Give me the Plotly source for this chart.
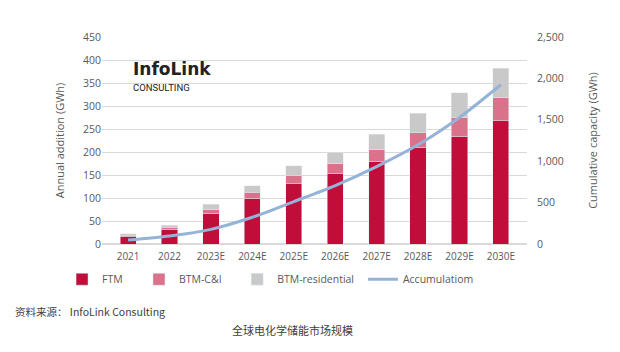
import plotly.graph_objects as go

years = ["2021", "2022", "2023E", "2024E", "2025E", "2026E", "2027E", "2028E", "2029E", "2030E"]
ftm = [17, 32, 67, 99, 131, 153, 179, 210, 234, 268]
btm_ci = [2.5, 4, 7, 13, 18, 21, 26, 32, 40, 50]
btm_res = [3, 5, 12, 15, 21, 26, 34, 42, 55, 64]
accum = [48, 97, 177, 323, 512, 706, 935, 1198, 1528, 1923]

FONT = "Open Sans"
GRAY = "#595959"

fig = go.Figure()
fig.add_trace(go.Bar(x=years, y=ftm, name="FTM", marker_color="#c00d3a", width=0.39, legend="legend"))
fig.add_trace(go.Bar(x=years, y=btm_ci, name="BTM-C&I", marker_color="#d9728a", width=0.39, legend="legend2"))
fig.add_trace(go.Bar(x=years, y=btm_res, name="BTM-residential", marker_color="#c9c9c9", width=0.39, legend="legend3"))
fig.add_trace(go.Scatter(x=years, y=accum, name="Accumulatiom", mode="lines", yaxis="y2", legend="legend4",
                         line=dict(color="#95b3d7", width=3, shape="spline", smoothing=0.8)))

def leg(x):
    return dict(orientation="h", x=x, xanchor="left", y=-0.17, yanchor="middle",
                font=dict(size=10.5, color=GRAY), bgcolor="rgba(0,0,0,0)", itemwidth=30)

fig.update_layout(
    width=620, height=352,
    margin=dict(l=102, r=93, t=37, b=108, autoexpand=False),
    barmode="stack",
    plot_bgcolor="white", paper_bgcolor="white",
    font=dict(family=FONT, size=10, color=GRAY),
    xaxis=dict(range=[-0.63, 9.63], showgrid=False, showline=False, ticks="", tickangle=0,
               ticklabelstandoff=5, tickfont=dict(size=10, color=GRAY)),
    yaxis=dict(range=[0, 450], dtick=50, showgrid=True, gridcolor="#d9d9d9", gridwidth=1,
               zeroline=True, zerolinecolor="#d9d9d9", showline=False, ticks="",
               tickfont=dict(size=10.5, color=GRAY),
               title=dict(text="Annual addition (GWh)", font=dict(size=11, color=GRAY), standoff=16)),
    yaxis2=dict(range=[0, 2500], dtick=500, overlaying="y", side="right", showgrid=False,
                zeroline=False, showline=False, ticks="", tickformat=",", ticklabelstandoff=9,
                tickfont=dict(size=10.5, color=GRAY),
                title=dict(text="Cumulative capacity (GWh)", font=dict(size=11, color=GRAY), standoff=26)),
    legend=leg(-0.094),
    legend2=leg(0.087),
    legend3=leg(0.318),
    legend4=leg(0.614),
    showlegend=True,
)

fig.add_annotation(text="<b>InfoLink</b>", xref="paper", yref="paper", x=0.069, y=0.845,
                   xanchor="left", yanchor="middle", showarrow=False,
                   font=dict(family="DejaVu Sans", size=17, color="#222222"))
fig.add_annotation(text="CONSULTING", xref="paper", yref="paper", x=0.069, y=0.755,
                   xanchor="left", yanchor="middle", showarrow=False,
                   font=dict(family="Roboto", size=9.5, color="#222222"))
fig.add_annotation(text="资料来源： InfoLink Consulting", xref="paper", yref="paper",
                   x=-0.21, y=-0.325, xanchor="left", yanchor="middle", showarrow=False,
                   font=dict(family="Noto Sans CJK SC", size=10.5, color="#404040"))
fig.add_annotation(text="全球电化学储能市场规模", xref="paper", yref="paper",
                   x=0.448, y=-0.415, xanchor="center", yanchor="middle", showarrow=False,
                   font=dict(family="Noto Sans CJK SC", size=11, color="#404040"))

fig.write_html("out.html")
